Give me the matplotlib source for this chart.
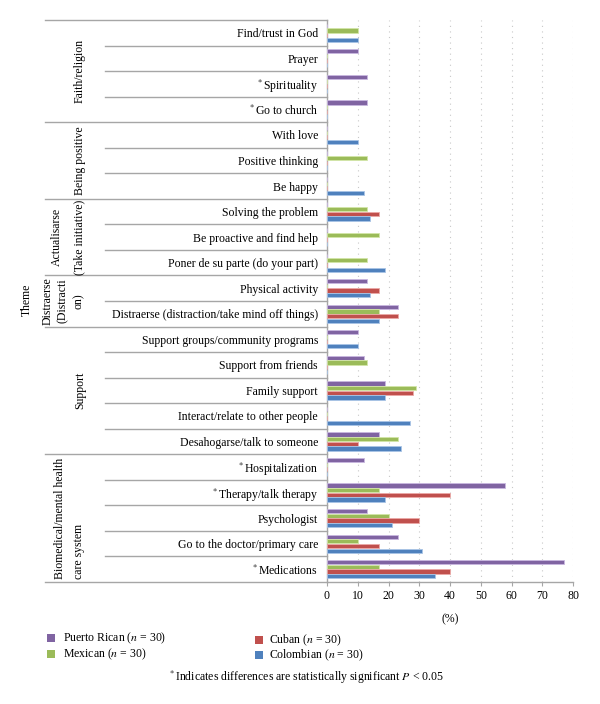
import numpy as np
import matplotlib
matplotlib.use('Agg')
import matplotlib.pyplot as plt
from matplotlib.patches import Rectangle
from matplotlib.transforms import blended_transform_factory

plt.rcParams['font.family'] = 'Liberation Serif'
plt.rcParams['mathtext.fontset'] = 'stix'

# ---------------------------------------------------------------------------
# Data (percent), categories top to bottom
# ---------------------------------------------------------------------------
CATEGORIES = [
    'Find/trust in God', 'Prayer', '$^*$Spirituality', '$^*$Go to church',
    'With love', 'Positive thinking', 'Be happy',
    'Solving the problem', 'Be proactive and find help',
    'Poner de su parte (do your part)',
    'Physical activity', 'Distraerse (distraction/take mind off things)',
    'Support groups/community programs', 'Support from friends',
    'Family support', 'Interact/relate to other people',
    'Desahogarse/talk to someone',
    '$^*$Hospitalization', '$^*$Therapy/talk therapy', 'Psychologist',
    'Go to the doctor/primary care', '$^*$Medications',
]
PUERTO_RICAN = [0, 10, 13, 13, 0, 0, 0, 0, 0, 0, 13, 23, 10, 12, 19, 0, 17, 12, 58, 13, 23, 77]
MEXICAN      = [10, 0, 0, 0, 0, 13, 0, 13, 17, 13, 0, 17, 0, 13, 29, 0, 23, 0, 17, 20, 10, 17]
CUBAN        = [0, 0, 0, 0, 0, 0, 0, 17, 0, 0, 17, 23, 0, 0, 28, 0, 10, 0, 40, 30, 17, 40]
COLOMBIAN    = [10, 0, 0, 0, 10, 0, 12, 14, 0, 19, 14, 17, 10, 0, 19, 27, 24, 0, 19, 21, 31, 35]

SERIES_LABELS = ['Puerto Rican ($n$ = 30)', 'Mexican ($n$ = 30)',
                 'Cuban ($n$ = 30)', 'Colombian ($n$ = 30)']
COLORS = ['#8064a2', '#9bbb59', '#c0504d', '#4f81bd']
EDGES = ['#c9b8e0', '#d3e6a8', '#eba9a7', '#a9c4e6']

GROUP_SIZES = [4, 3, 3, 2, 5, 5]

GRAY = '#a6a6a6'
W, H = 600, 704


def fx(px):
    return px / W


def fy(py):
    return 1 - py / H


def main():
    fig = plt.figure(figsize=(6.0, 7.04), dpi=100, facecolor='white')
    ax = fig.add_axes([fx(327), fy(582), fx(573) - fx(327), fy(20) - fy(582)])

    n = len(CATEGORIES)
    y = np.arange(n)
    bh = 0.165
    step = 0.183
    series = [PUERTO_RICAN, MEXICAN, CUBAN, COLOMBIAN]
    for k, vals in enumerate(series):
        offs = (k - 1.5) * step
        ax.barh(y + offs, vals, height=bh, color=COLORS[k],
                edgecolor=EDGES[k], linewidth=0.6, zorder=3)

    ax.set_xlim(0, 80)
    ax.set_ylim(n - 0.5, -0.5)
    ax.set_xticks(np.arange(0, 81, 10))
    for xv in range(10, 81, 10):
        ax.axvline(xv, color='#c8c8c8', lw=0.8, ls=(0, (1, 4)), zorder=1)

    ax.set_yticks(y)
    ax.set_yticklabels(CATEGORIES, fontsize=8.5)
    ax.tick_params(axis='y', length=0, pad=6.5)
    ax.tick_params(axis='x', length=3, color=GRAY, labelsize=8.5, pad=3)
    for s in ['top', 'right']:
        ax.spines[s].set_visible(False)
    for s in ['left', 'bottom']:
        ax.spines[s].set_color(GRAY)
        ax.spines[s].set_linewidth(1.0)

    ax.set_xlabel('(%)', fontsize=8.5, labelpad=8)

    # Table lines on the left
    tr = blended_transform_factory(fig.transFigure, ax.transData)
    bounds = np.cumsum(GROUP_SIZES)
    for b in range(1, n):
        x0 = fx(45) if b in bounds else fx(105)
        ax.plot([x0, fx(327)], [b - 0.5, b - 0.5], color=GRAY, lw=1.0,
                transform=tr, clip_on=False)
    for b in [-0.5, n - 0.5]:
        ax.plot([fx(45), fx(327)], [b, b], color=GRAY, lw=1.0,
                transform=tr, clip_on=False)

    starts = np.concatenate([[0], bounds[:-1]])
    centers = [(s + e - 1) / 2 for s, e in zip(starts, bounds)]
    group_text = [
        [('Faith/religion', 80)],
        [('Being positive', 80)],
        [('Actualisarse', 57), ('(Take initiative)', 79)],
        [('Distraerse', 48), ('(Distracti', 63), ('on)', 79)],
        [('Support', 80)],
    ]
    for g, lines in enumerate(group_text):
        for txt, px in lines:
            ax.text(fx(px), centers[g], txt, rotation=90, ha='center',
                    va='center', fontsize=8.5, transform=tr)
    # Biomedical group: lines aligned at the bottom
    ax.text(fx(60), n - 0.6, 'Biomedical/mental health', rotation=90,
            ha='center', va='bottom', fontsize=8.5, transform=tr)
    ax.text(fx(79), n - 0.6, 'care system', rotation=90,
            ha='center', va='bottom', fontsize=8.5, transform=tr)

    fig.text(fx(27), fy(300), 'Theme', rotation=90, ha='center',
             va='center', fontsize=8.5)

    # Legend
    leg_pos = [(51, 638, 63), (51, 654, 63), (259, 640, 269), (259, 655, 269)]
    for k, (sx, sy, tx) in enumerate(leg_pos):
        fig.patches.append(Rectangle((fx(sx - 4), fy(sy + 4)), 8 / W, 8 / H,
                                     transform=fig.transFigure,
                                     facecolor=COLORS[k], edgecolor='none'))
        fig.text(fx(tx), fy(sy), SERIES_LABELS[k], ha='left', va='center',
                 fontsize=8.5)

    fig.text(fx(306), fy(677),
             '$^*$Indicates differences are statistically significant $P$ < 0.05',
             ha='center', va='center', fontsize=8.5)

    fig.savefig('out.png', dpi=100, facecolor='white')
    plt.close(fig)


if __name__ == '__main__':
    main()
